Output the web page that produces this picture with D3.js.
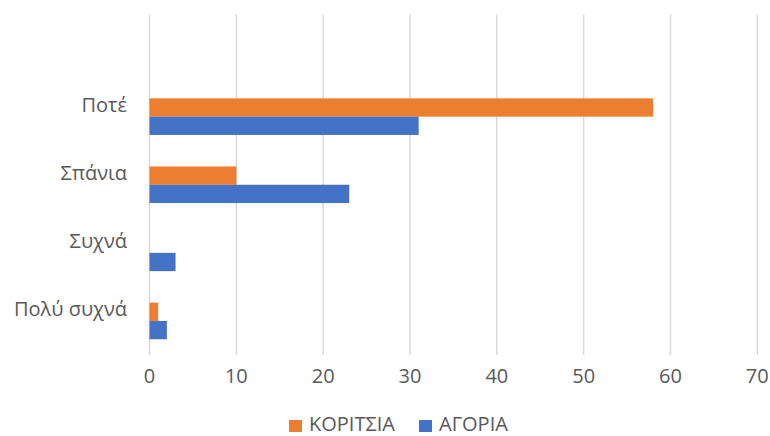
<!DOCTYPE html>
<html>
<head>
<meta charset="utf-8">
<script src="https://cdn.jsdelivr.net/npm/d3@7"></script>
<style>
  body { margin: 0; background: #fff; }
  text { font-family: "Open Sans", sans-serif; fill: #595959; }
</style>
</head>
<body>
<div id="chart"></div>
<script>
// categories bottom -> top, the top one is an empty row
let categories = ['Πολύ συχνά', 'Συχνά', 'Σπάνια', 'Ποτέ', '']
let series = ['ΚΟΡΙΤΣΙΑ', 'ΑΓΟΡΙΑ']
let girls = [1, 0, 10, 58, null]
let boys = [2, 3, 23, 31, null]
let xTicks = [0, 10, 20, 30, 40, 50, 60, 70]
let colors = ['#ED7D31', '#4472C4']

let width = 770, height = 436
let margin = {top: 14.5, right: 12.7, bottom: 81, left: 149.5}

let svg = d3.select('#chart').append('svg')
    .attr('width', width)
    .attr('height', height)
    .style('display', 'block')

let x = d3.scaleLinear()
    .domain([0, 70])
    .range([margin.left, width - margin.right])

let y = d3.scaleBand()
    .domain(categories.slice().reverse())
    .range([margin.top, height - margin.bottom])

let inner = d3.scaleBand()
    .domain(series)
    .range([0, y.bandwidth()])
    .paddingInner(0)
    .paddingOuter(0.86)

// gridlines
svg.append('g')
    .selectAll('line')
    .data(xTicks)
    .enter().append('line')
    .attr('x1', d => x(d)).attr('x2', d => x(d))
    .attr('y1', margin.top).attr('y2', height - margin.bottom)
    .attr('stroke', '#d9d9d9')
    .attr('stroke-width', 1.5)

// bars
let rows = categories.map((c, i) => ({cat: c, vals: [girls[i], boys[i]]}))
let groups = svg.append('g').selectAll('g')
    .data(rows)
    .enter().append('g')
    .attr('transform', d => 'translate(0,' + y(d.cat) + ')')

groups.selectAll('rect')
    .data(d => d.vals.map((v, j) => ({s: series[j], v: v, j: j})).filter(e => e.v))
    .enter().append('rect')
    .attr('x', x(0))
    .attr('y', d => inner(d.s))
    .attr('width', d => x(d.v) - x(0))
    .attr('height', inner.bandwidth())
    .attr('fill', d => colors[d.j])

// category labels
svg.append('g').selectAll('text')
    .data(categories.filter(c => c))
    .enter().append('text')
    .attr('x', 127)
    .attr('y', d => y(d) + y.bandwidth() / 2 - 12)
    .attr('dy', '0.35em')
    .attr('text-anchor', 'end')
    .style('font-size', '20px')
    .text(d => d)

// x tick labels
svg.append('g').selectAll('text')
    .data(xTicks)
    .enter().append('text')
    .attr('x', d => x(d))
    .attr('y', 383)
    .attr('text-anchor', 'middle')
    .style('font-size', '20px')
    .text(d => d)

// legend
let legendX = [289, 419]
let legend = svg.append('g').selectAll('g')
    .data(series)
    .enter().append('g')
    .attr('transform', (d, i) => 'translate(' + legendX[i] + ',420)')
legend.append('rect')
    .attr('width', 13).attr('height', 12)
    .attr('fill', (d, i) => colors[i])
legend.append('text')
    .attr('x', 20)
    .attr('y', 11)
    .style('font-size', '20px')
    .text(d => d)
</script>
</body>
</html>
